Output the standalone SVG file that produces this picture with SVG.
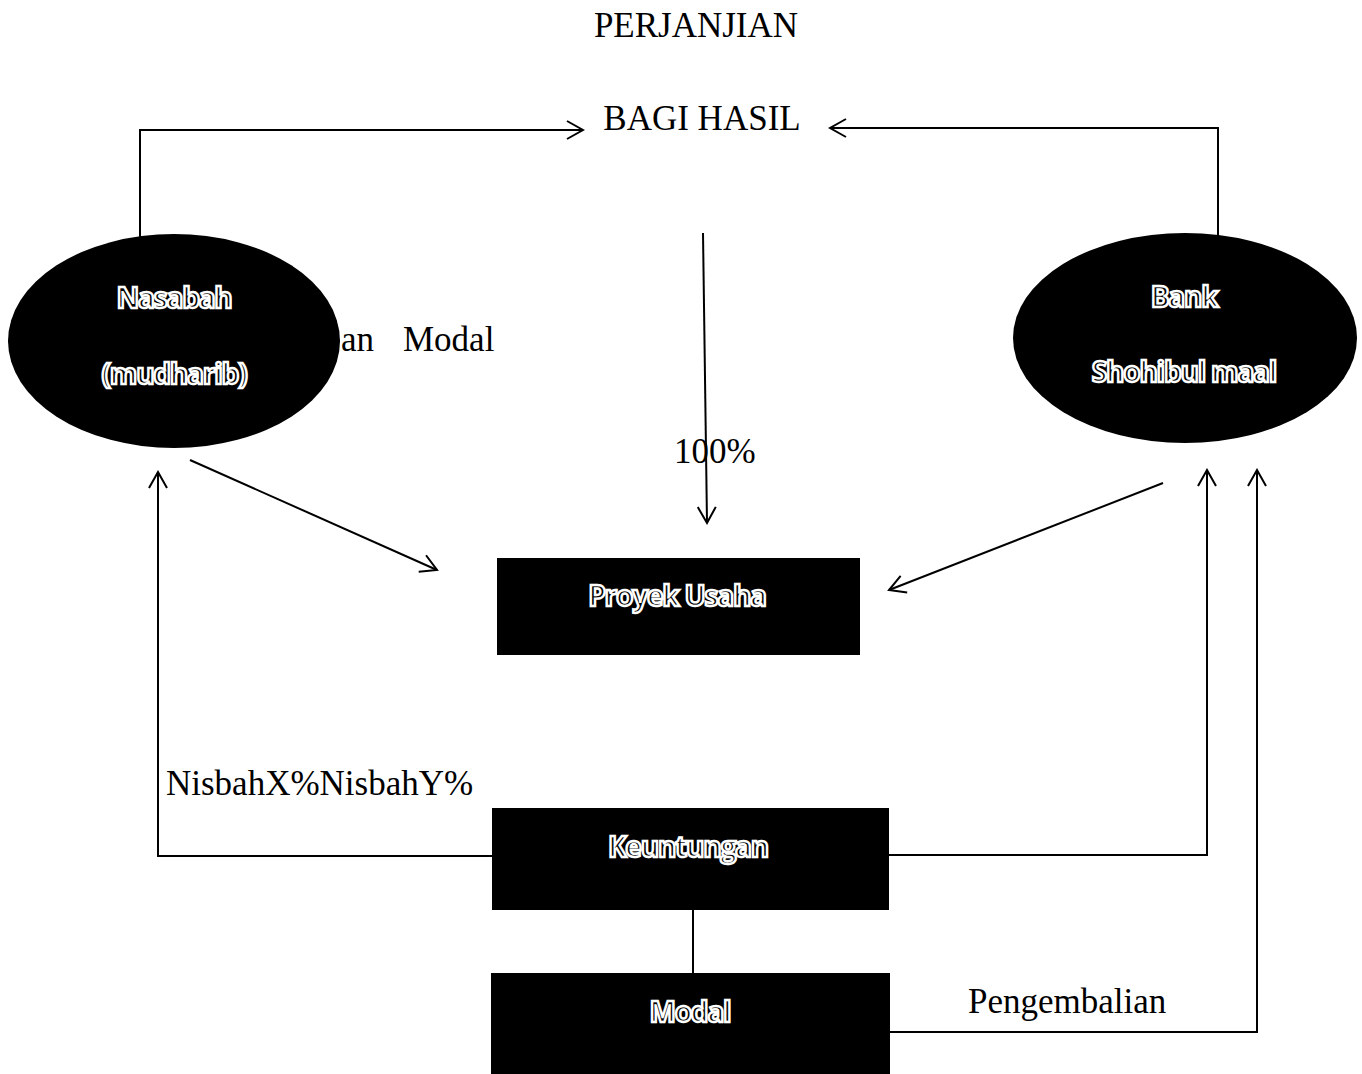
<svg xmlns="http://www.w3.org/2000/svg" width="1362" height="1074" viewBox="0 0 1362 1074">
<style>
.t{font-family:"Liberation Serif","Times New Roman",serif;font-size:35px;fill:#000}
.n{font-family:"Open Sans","Liberation Sans",sans-serif;font-weight:bold;font-size:28px;fill:#000;stroke:#fff;stroke-width:2.4;text-anchor:middle;letter-spacing:-1.2px}
.c{fill:none;stroke:#000;stroke-width:2}
.s{fill:#000}
</style>
<defs>
<marker id="a" viewBox="0 0 20 20" refX="18" refY="10" markerWidth="20" markerHeight="20" markerUnits="userSpaceOnUse" orient="auto">
<path d="M2,1 L18,10 L2,19" fill="none" stroke="#000" stroke-width="2"/>
</marker>
</defs>
<rect width="1362" height="1074" fill="#fff"/>
<text class="t" x="696" y="37" text-anchor="middle">PERJANJIAN</text>
<text class="t" x="702" y="130" text-anchor="middle">BAGI HASIL</text>
<text class="t" x="341" y="351">an</text>
<text class="t" x="403" y="351">Modal</text>
<text class="t" x="674" y="463">100%</text>
<text class="t" x="166" y="795">NisbahX%NisbahY%</text>
<text class="t" x="968" y="1013">Pengembalian</text>
<g id="connectors">
<polyline class="c" points="140,238 140,130 583,130" marker-end="url(#a)"/>
<polyline class="c" points="1218,237 1218,128 830,128" marker-end="url(#a)"/>
<line class="c" x1="703" y1="233" x2="707" y2="523" marker-end="url(#a)"/>
<line class="c" x1="190" y1="460" x2="437" y2="570" marker-end="url(#a)"/>
<line class="c" x1="1163" y1="483" x2="889" y2="590" marker-end="url(#a)"/>
<polyline class="c" points="492,856 158,856 158,472" marker-end="url(#a)"/>
<polyline class="c" points="889,855 1207,855 1207,470" marker-end="url(#a)"/>
<polyline class="c" points="890,1032 1257,1032 1257,470" marker-end="url(#a)"/>
<line class="c" x1="693" y1="910" x2="693" y2="973"/>
</g>
<g id="nasabah">
<ellipse class="s" cx="174" cy="341" rx="166" ry="107"/>
<text class="n" x="174" y="308">Nasabah</text>
<text class="n" x="174" y="384">(mudharib)</text>
</g>
<g id="bank">
<ellipse class="s" cx="1185" cy="338" rx="172" ry="105"/>
<text class="n" x="1184" y="307">Bank</text>
<text class="n" x="1184" y="382">Shohibul maal</text>
</g>
<g id="proyek">
<rect class="s" x="497" y="558" width="363" height="97"/>
<text class="n" x="677" y="606">Proyek Usaha</text>
</g>
<g id="keuntungan">
<rect class="s" x="492" y="808" width="397" height="102"/>
<text class="n" x="688" y="857">Keuntungan</text>
</g>
<g id="modal">
<rect class="s" x="491" y="973" width="399" height="101"/>
<text class="n" x="690" y="1022">Modal</text>
</g>
</svg>
